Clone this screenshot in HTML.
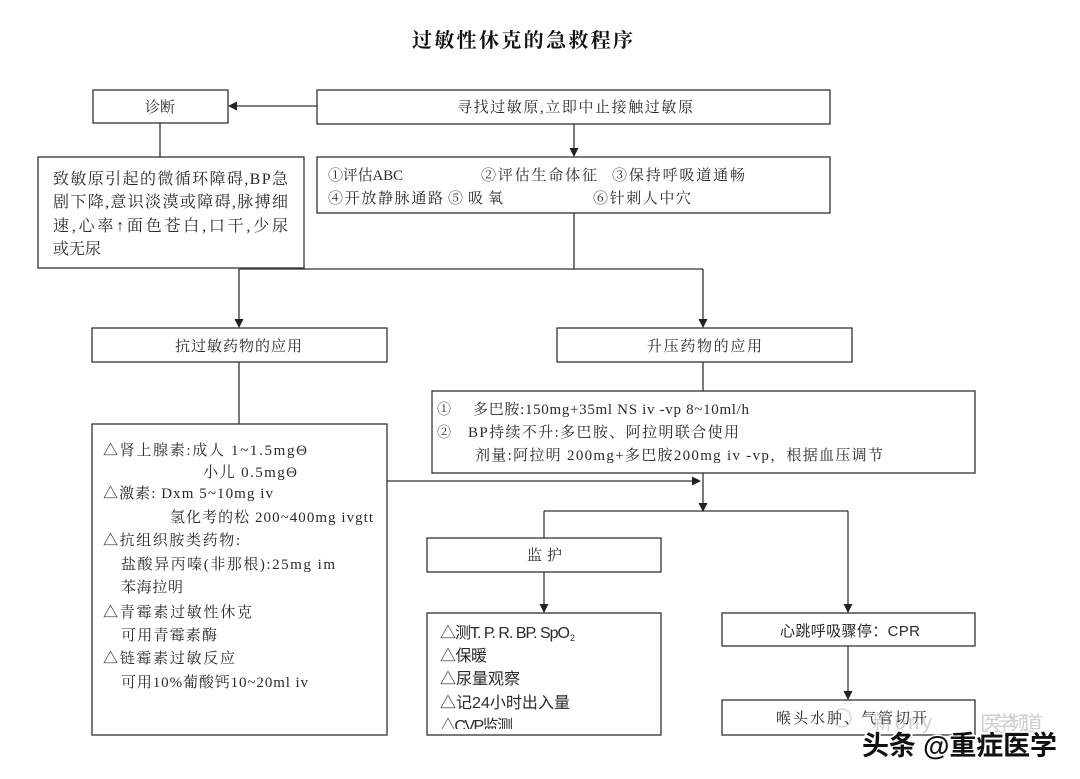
<!DOCTYPE html>
<html>
<head>
<meta charset="utf-8">
<style>
html,body{margin:0;padding:0;background:#fff;}
svg{display:block;}
.k{font-family:"Liberation Serif","Noto Serif CJK SC",serif;fill:#2a2a2a;}
.s{font-family:"Liberation Sans","Noto Sans CJK SC",sans-serif;fill:#2a2a2a;}
</style>
</head>
<body>
<svg width="1080" height="779" viewBox="0 0 1080 779" xmlns="http://www.w3.org/2000/svg">
<rect x="0" y="0" width="1080" height="779" fill="#fff"/>

<!-- Title -->
<text x="412" y="47" class="k" font-size="20" font-weight="700" fill="#111" textLength="221" lengthAdjust="spacing" style="fill:#111">过敏性休克的急救程序</text>

<g fill="none" stroke="#333" stroke-width="1.3">
  <!-- boxes -->
  <rect x="93" y="90" width="135" height="33"/>
  <rect x="317" y="90" width="513" height="34"/>
  <rect x="38" y="157" width="266" height="111"/>
  <rect x="317" y="157" width="513" height="56"/>
  <rect x="92" y="328" width="295" height="34"/>
  <rect x="557" y="328" width="295" height="34"/>
  <rect x="92" y="424" width="295" height="311"/>
  <rect x="432" y="391" width="543" height="82"/>
  <rect x="427" y="538" width="234" height="34"/>
  <rect x="427" y="613" width="234" height="122"/>
  <rect x="722" y="613" width="253" height="33"/>
  <rect x="722" y="700" width="253" height="35"/>

  <!-- connector lines -->
  <line x1="317" y1="106" x2="236" y2="106"/>
  <line x1="160" y1="123" x2="160" y2="157"/>
  <line x1="574" y1="124" x2="574" y2="150"/>
  <line x1="574" y1="213" x2="574" y2="269"/>
  <line x1="239" y1="269" x2="703" y2="269"/>
  <line x1="239" y1="269" x2="239" y2="321"/>
  <line x1="703" y1="269" x2="703" y2="321"/>
  <line x1="239" y1="362" x2="239" y2="424"/>
  <line x1="703" y1="362" x2="703" y2="391"/>
  <line x1="387" y1="481" x2="694" y2="481"/>
  <line x1="703" y1="473" x2="703" y2="504"/>
  <line x1="544" y1="511" x2="848" y2="511"/>
  <line x1="544" y1="511" x2="544" y2="538"/>
  <line x1="544" y1="572" x2="544" y2="606"/>
  <line x1="848" y1="511" x2="848" y2="606"/>
  <line x1="848" y1="646" x2="848" y2="693"/>
</g>

<!-- arrowheads -->
<g fill="#222">
  <polygon points="228,106 237,101.5 237,110.5"/>
  <polygon points="574,157 569.5,148 578.5,148"/>
  <polygon points="239,328 234.5,319 243.5,319"/>
  <polygon points="703,328 698.5,319 707.5,319"/>
  <polygon points="701,481 692,476.5 692,485.5"/>
  <polygon points="703,512 698.5,503 707.5,503"/>
  <polygon points="544,613 539.5,604 548.5,604"/>
  <polygon points="848,613 843.5,604 852.5,604"/>
  <polygon points="848,700 843.5,691 852.5,691"/>
</g>

<!-- 诊断 -->
<text x="145" y="112" class="k" font-size="15" textLength="30" lengthAdjust="spacing">诊断</text>
<!-- 寻找 -->
<text x="457" y="112" class="k" font-size="15" textLength="236" lengthAdjust="spacing">寻找过敏原,立即中止接触过敏原</text>

<!-- 致敏原 box -->
<text x="53" y="184" class="k" font-size="16" textLength="235" lengthAdjust="spacing">致敏原引起的微循环障碍,BP急</text>
<text x="53" y="207" class="k" font-size="16" textLength="235" lengthAdjust="spacing">剧下降,意识淡漠或障碍,脉搏细</text>
<text x="53" y="231" class="k" font-size="16" textLength="235" lengthAdjust="spacing">速,心率↑面色苍白,口干,少尿</text>
<text x="53" y="254" class="k" font-size="16" textLength="48" lengthAdjust="spacing">或无尿</text>

<!-- ① box -->
<text x="328" y="180" class="k" font-size="15" textLength="75" lengthAdjust="spacing">①评估ABC</text>
<text x="481" y="180" class="k" font-size="15" textLength="116" lengthAdjust="spacing">②评估生命体征</text>
<text x="612" y="180" class="k" font-size="15" textLength="133" lengthAdjust="spacing">③保持呼吸道通畅</text>
<text x="328" y="203" class="k" font-size="15" textLength="115" lengthAdjust="spacing">④开放静脉通路</text>
<text x="448" y="203" class="k" font-size="15" textLength="55" lengthAdjust="spacing">⑤吸氧</text>
<text x="593" y="203" class="k" font-size="15" textLength="98" lengthAdjust="spacing">⑥针刺人中穴</text>

<!-- 抗过敏 / 升压 -->
<text x="175" y="351" class="k" font-size="15" textLength="127" lengthAdjust="spacing">抗过敏药物的应用</text>
<text x="647" y="351" class="k" font-size="15" textLength="115" lengthAdjust="spacing">升压药物的应用</text>

<!-- 多巴胺 box -->
<text x="437" y="414" class="k" font-size="14">①</text>
<text x="473" y="414" class="k" font-size="15" textLength="276" lengthAdjust="spacing">多巴胺:150mg+35ml NS iv -vp 8~10ml/h</text>
<text x="437" y="437" class="k" font-size="14">②</text>
<text x="468" y="437" class="k" font-size="15" textLength="271" lengthAdjust="spacing">BP持续不升:多巴胺、阿拉明联合使用</text>
<text x="475" y="460" class="k" font-size="15" textLength="408" lengthAdjust="spacing">剂量:阿拉明  200mg+多巴胺200mg iv -vp，根据血压调节</text>

<!-- antiallergy list -->
<text x="103" y="455" class="k" font-size="15" textLength="204" lengthAdjust="spacing">△肾上腺素:成人  1~1.5mgΘ</text>
<text x="203" y="477" class="k" font-size="15" textLength="94" lengthAdjust="spacing">小儿  0.5mgΘ</text>
<text x="103" y="498" class="k" font-size="15" textLength="170" lengthAdjust="spacing">△激素: Dxm 5~10mg iv</text>
<text x="170" y="522" class="k" font-size="15" textLength="203" lengthAdjust="spacing">氢化考的松  200~400mg ivgtt</text>
<text x="103" y="545" class="k" font-size="15" textLength="137" lengthAdjust="spacing">△抗组织胺类药物:</text>
<text x="121" y="569" class="k" font-size="15" textLength="214" lengthAdjust="spacing">盐酸异丙嗪(非那根):25mg im</text>
<text x="121" y="592" class="k" font-size="15" textLength="62" lengthAdjust="spacing">苯海拉明</text>
<text x="103" y="617" class="k" font-size="15" textLength="149" lengthAdjust="spacing">△青霉素过敏性休克</text>
<text x="121" y="640" class="k" font-size="15" textLength="96" lengthAdjust="spacing">可用青霉素酶</text>
<text x="103" y="663" class="k" font-size="15" textLength="132" lengthAdjust="spacing">△链霉素过敏反应</text>
<text x="121" y="687" class="k" font-size="15" textLength="187" lengthAdjust="spacing">可用10%葡酸钙10~20ml iv</text>

<!-- 监护 -->
<text x="527" y="560" class="k" font-size="15" textLength="35" lengthAdjust="spacing">监护</text>

<!-- monitor list -->
<defs>
  <clipPath id="mc"><rect x="428" y="614" width="232" height="115"/></clipPath>
</defs>
<g clip-path="url(#mc)">
  <text x="440" y="638" class="s" font-size="16" textLength="130" lengthAdjust="spacing">△测T. P. R. BP. SpO</text>
  <text x="570" y="641" class="s" font-size="9">2</text>
  <text x="440" y="661" class="s" font-size="16" textLength="47" lengthAdjust="spacing">△保暖</text>
  <text x="440" y="684" class="s" font-size="16" textLength="80" lengthAdjust="spacing">△尿量观察</text>
  <text x="440" y="708" class="s" font-size="16" textLength="130" lengthAdjust="spacing">△记24小时出入量</text>
  <text x="440" y="731" class="s" font-size="16" textLength="73" lengthAdjust="spacing">△CVP监测</text>
</g>

<!-- 心跳 / 喉头 -->
<text x="780" y="636" class="s" font-size="15" textLength="140" lengthAdjust="spacing">心跳呼吸骤停：CPR</text>
<text x="776" y="723" class="k" font-size="15" textLength="151" lengthAdjust="spacing">喉头水肿、气管切开</text>

<!-- watermark -->
<g opacity="0.45">
  <circle cx="842" cy="718" r="9" fill="none" stroke="#aaa" stroke-width="1.5"/>
  <text x="872" y="729" class="s" font-size="20" style="fill:#999" textLength="60" lengthAdjust="spacing">新ony</text>
  <text x="980" y="731" class="s" font-size="21" style="fill:#999" textLength="63" lengthAdjust="spacing">医学频道</text>
</g>
<text x="862" y="755" font-family="'Liberation Sans','Noto Sans CJK SC',sans-serif" font-size="27" font-weight="700" fill="#111" stroke="#fff" stroke-width="3" paint-order="stroke" textLength="195" lengthAdjust="spacing">头条 @重症医学</text>
</svg>
</body>
</html>
